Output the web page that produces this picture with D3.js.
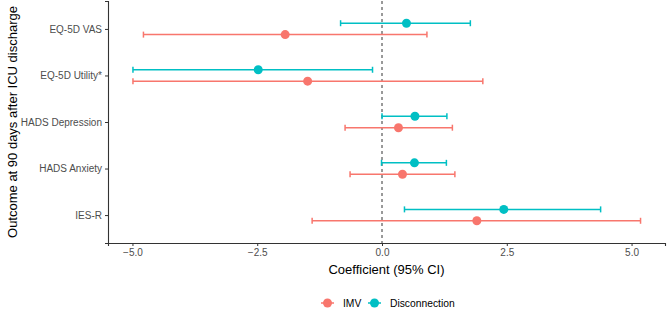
<!DOCTYPE html>
<html>
<head>
<meta charset="utf-8">
<script src="https://cdn.jsdelivr.net/npm/d3@7"></script>
<style>
  body { margin: 0; background: #fff; }
  text { font-family: Arial, "Liberation Sans", sans-serif; }
</style>
</head>
<body>
<svg id="chart"></svg>
<script>
'use strict';
// Outcomes, top to bottom
var outcomes = ['EQ-5D VAS', 'EQ-5D Utility*', 'HADS Depression', 'HADS Anxiety', 'IES-R'];
var groups = ['IMV', 'Disconnection'];
var groupColors = ['#F8766D', '#00BFC4'];

// estimates and 95% CI per outcome
var imvEst  = [-1.94, -1.49, 0.33, 0.41, 1.90];
var imvLow  = [-4.78, -4.99, -0.74, -0.64, -1.40];
var imvHigh = [0.90, 2.02, 1.41, 1.46, 5.18];
var discEst  = [0.49, -2.48, 0.66, 0.65, 2.44];
var discLow  = [-0.83, -4.99, 0.00, -0.01, 0.45];
var discHigh = [1.77, -0.19, 1.30, 1.29, 4.38];
var xTicks = [-5.0, -2.5, 0.0, 2.5, 5.0];

var canvasWidth = 669;
var canvasHeight = 310;
var margin = { top: 1, right: 4, bottom: 67, left: 108 };
var width = canvasWidth - margin.left - margin.right;
var height = canvasHeight - margin.top - margin.bottom;

var svg = d3.select('#chart')
  .attr('width', canvasWidth)
  .attr('height', canvasHeight);

var g = svg.append('g')
  .attr('transform', 'translate(' + margin.left + ',' + margin.top + ')');

var xScale = d3.scaleLinear().domain([-5.49, 5.67]).range([0, width]);
var yScale = d3.scalePoint().domain(outcomes).range([0, height]).padding(0.6);

var rows = [];
outcomes.forEach(function(o, i) {
  rows.push({ outcome: o, group: 0, est: imvEst[i], lo: imvLow[i], hi: imvHigh[i] });
  rows.push({ outcome: o, group: 1, est: discEst[i], lo: discLow[i], hi: discHigh[i] });
});
// dodge: IMV below, Disconnection above
var dodge = function(d) { return yScale(d.outcome) + (d.group === 0 ? 5.7 : -5.7); };

// zero line
g.append('line')
  .attr('x1', xScale(0)).attr('x2', xScale(0))
  .attr('y1', 0).attr('y2', height)
  .attr('stroke', '#000').attr('stroke-width', 0.8)
  .attr('stroke-dasharray', '3,3');

// error bars
var bars = g.selectAll('.bar').data(rows).enter().append('g').attr('class', 'bar')
  .attr('stroke', function(d) { return groupColors[d.group]; })
  .attr('stroke-width', 1.5);
bars.append('line')
  .attr('x1', function(d) { return xScale(d.lo); })
  .attr('x2', function(d) { return xScale(d.hi); })
  .attr('y1', dodge).attr('y2', dodge);
bars.append('line')
  .attr('x1', function(d) { return xScale(d.lo); })
  .attr('x2', function(d) { return xScale(d.lo); })
  .attr('y1', function(d) { return dodge(d) - 3; })
  .attr('y2', function(d) { return dodge(d) + 3; });
bars.append('line')
  .attr('x1', function(d) { return xScale(d.hi); })
  .attr('x2', function(d) { return xScale(d.hi); })
  .attr('y1', function(d) { return dodge(d) - 3; })
  .attr('y2', function(d) { return dodge(d) + 3; });

g.selectAll('circle').data(rows).enter().append('circle')
  .attr('cx', function(d) { return xScale(d.est); })
  .attr('cy', dodge)
  .attr('r', 4.5)
  .style('fill', function(d) { return groupColors[d.group]; });

// axes
var xAxis = g.append('g')
  .attr('transform', 'translate(0,' + height + ')')
  .call(d3.axisBottom(xScale).tickValues(xTicks).tickFormat(d3.format('.1f')).tickSizeOuter(0).tickSize(3).tickPadding(3));
var yAxis = g.append('g')
  .call(d3.axisLeft(yScale).tickSizeOuter(0).tickSize(3).tickPadding(3));
[xAxis, yAxis].forEach(function(a) {
  a.select('.domain').attr('stroke', '#333').attr('stroke-width', 1.1);
  a.selectAll('.tick line').attr('stroke', '#333');
  a.selectAll('.tick text').attr('fill', '#4d4d4d').style('font-size', '10px');
});

// titles
svg.append('text')
  .attr('x', margin.left + width / 2)
  .attr('y', 274)
  .attr('text-anchor', 'middle')
  .style('font-size', '13px')
  .text('Coefficient (95% CI)');
svg.append('text')
  .attr('transform', 'translate(17,' + (margin.top + height / 2) + ') rotate(-90)')
  .attr('text-anchor', 'middle')
  .style('font-size', '13px')
  .text('Outcome at 90 days after ICU discharge');

// legend
var legend = svg.append('g').attr('transform', 'translate(0,303)');
var legendX = [321, 368];
groups.forEach(function(name, i) {
  var k = legend.append('g').attr('transform', 'translate(' + legendX[i] + ',0)');
  k.append('line').attr('x1', 0).attr('x2', 13).attr('y1', 0).attr('y2', 0)
    .attr('stroke', groupColors[i]).attr('stroke-width', 1.5);
  k.append('circle').attr('cx', 6.5).attr('cy', 0).attr('r', 4.5).style('fill', groupColors[i]);
  k.append('text').attr('x', 22).attr('y', 4).style('font-size', '10.3px').attr('fill', '#000').text(name);
});
</script>
</body>
</html>
